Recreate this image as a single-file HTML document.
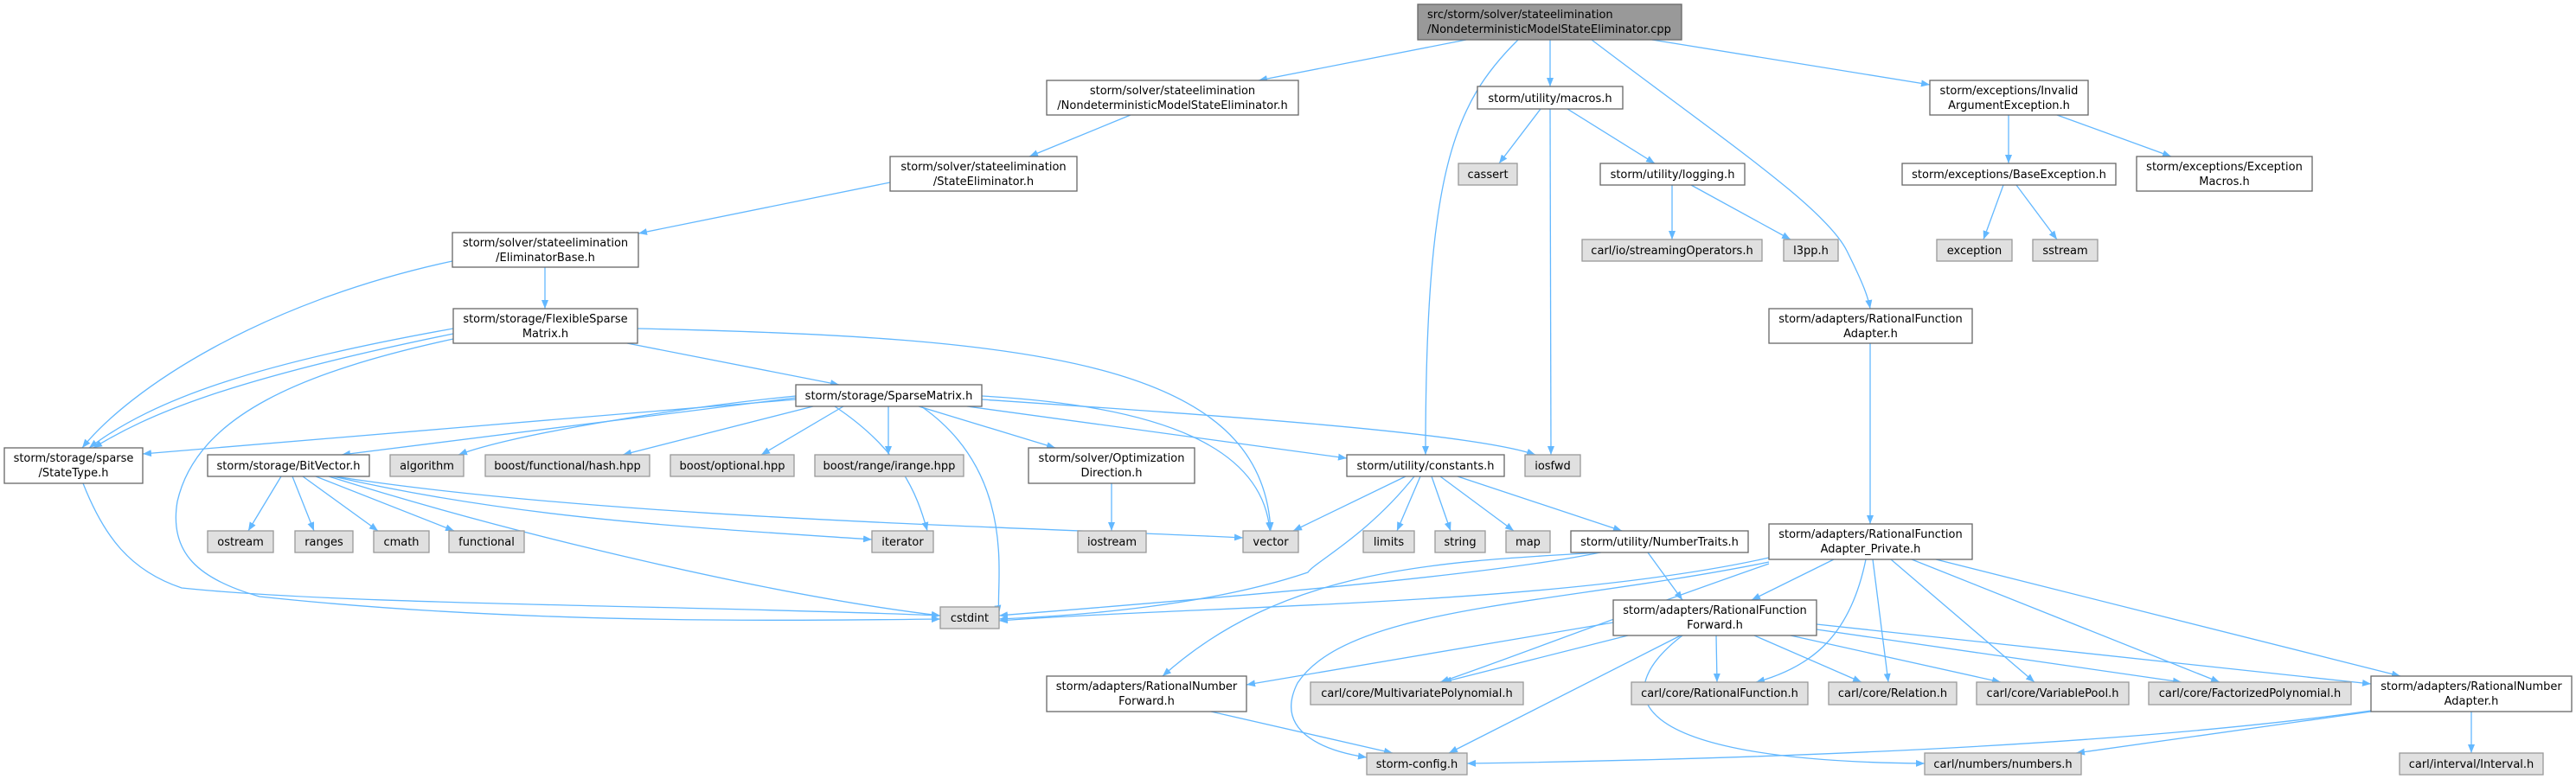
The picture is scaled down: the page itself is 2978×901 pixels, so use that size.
<!DOCTYPE html>
<html><head><meta charset="utf-8">
<style>
html,body{margin:0;padding:0;background:#fff;}
svg{display:block;}
text{font-family:"DejaVu Sans","Liberation Sans",sans-serif;font-size:13px;fill:#000;}
.n{fill:#fff;stroke:#666;stroke-width:1.3;}
.g{fill:#e0e0e0;stroke:#999;stroke-width:1.3;}
.t{fill:#999;stroke:#666;stroke-width:1.3;}
.e{fill:none;stroke:#63b8ff;stroke-width:1.3;marker-end:url(#a);}
</style></head>
<body>
<svg width="2978" height="901" viewBox="0 0 2978 901" xmlns="http://www.w3.org/2000/svg">
<defs>
<marker id="a" viewBox="0 0 10 8" refX="10" refY="4" markerWidth="10" markerHeight="8" markerUnits="userSpaceOnUse" orient="auto">
<path d="M0,0 L10,4 L0,8 z" fill="#63b8ff"/>
</marker>
</defs>

<g>
<path class="e" d="M1695,46 L1455,93"/>
<path class="e" d="M1792,46 L1792,100"/>
<path class="e" d="M1755,46 C1680,120 1648,200 1648,526"/>
<path class="e" d="M1840,46 C1990,160 2110,240 2135,290 C2155,330 2160,345 2162,357"/>
<path class="e" d="M1910,46 L2231,98"/>
<path class="e" d="M1307,133 L1190,181"/>
<path class="e" d="M1029,211 L738,270"/>
<path class="e" d="M1781,126 L1733,189"/>
<path class="e" d="M1812,126 L1913,189"/>
<path class="e" d="M1792,126 L1793,526"/>
<path class="e" d="M1933,214 L1933,277"/>
<path class="e" d="M1955,214 L2070,277"/>
<path class="e" d="M2322,133 L2322,189"/>
<path class="e" d="M2378,133 L2510,181"/>
<path class="e" d="M2316,214 L2293,277"/>
<path class="e" d="M2331,214 L2378,277"/>
<path class="e" d="M2162,397 L2162,606"/>
<path class="e" d="M630,309 L630,357"/>
<path class="e" d="M523,302 C300,350 150,450 95,518"/>
<path class="e" d="M524,380 C300,420 180,460 103,518"/>
<path class="e" d="M524,386 C260,440 170,480 108,518"/>
<path class="e" d="M725,397 L970,445"/>
<path class="e" d="M737,380 C1200,390 1460,420 1469,614"/>
<path class="e" d="M524,392 C350,430 228,480 205,580 C195,640 230,670 300,690 C600,722 900,718 1087,716"/>
<path class="e" d="M96,559 C120,620 150,660 210,680 C400,700 800,700 1087,712"/>
<path class="e" d="M920,462 L165,525"/>
<path class="e" d="M920,460 L395,526"/>
<path class="e" d="M920,458 C800,470 600,500 530,526"/>
<path class="e" d="M940,470 L720,526"/>
<path class="e" d="M975,470 L880,526"/>
<path class="e" d="M1027,470 L1027,526"/>
<path class="e" d="M965,470 C1040,520 1060,570 1072,614"/>
<path class="e" d="M1062,470 L1220,518"/>
<path class="e" d="M1118,470 L1557,530"/>
<path class="e" d="M1135,462 C1400,480 1700,500 1775,526"/>
<path class="e" d="M1135,458 C1350,470 1460,520 1468,614"/>
<path class="e" d="M1065,470 C1180,550 1150,680 1155,710"/>
<path class="e" d="M325,551 L287,614"/>
<path class="e" d="M338,551 L363,614"/>
<path class="e" d="M350,551 L437,614"/>
<path class="e" d="M365,551 L525,614"/>
<path class="e" d="M385,551 C600,600 800,610 1008,624"/>
<path class="e" d="M387,551 C700,600 1200,610 1437,622"/>
<path class="e" d="M380,551 C600,620 900,690 1087,712"/>
<path class="e" d="M1285,559 L1285,614"/>
<path class="e" d="M1625,551 L1495,614"/>
<path class="e" d="M1642,551 L1615,614"/>
<path class="e" d="M1655,551 L1677,614"/>
<path class="e" d="M1665,551 L1750,614"/>
<path class="e" d="M1685,551 L1875,614"/>
<path class="e" d="M1635,551 C1580,620 1520,650 1512,662 C1400,700 1250,712 1155,716"/>
<path class="e" d="M1850,639 C1700,670 1300,700 1155,712"/>
<path class="e" d="M1905,639 L1945,694"/>
<path class="e" d="M1851,639 C1650,650 1480,660 1344,782"/>
<path class="e" d="M2045,645 C1800,700 1400,700 1155,718"/>
<path class="e" d="M2045,650 C1800,700 1560,700 1500,790 C1470,850 1540,870 1580,876"/>
<path class="e" d="M2045,652 C1850,720 1750,760 1665,789"/>
<path class="e" d="M2120,647 L2025,694"/>
<path class="e" d="M2157,647 C2140,730 2100,770 2030,789"/>
<path class="e" d="M2165,647 L2183,789"/>
<path class="e" d="M2186,647 L2352,789"/>
<path class="e" d="M2210,647 L2566,789"/>
<path class="e" d="M2238,647 L2775,782"/>
<path class="e" d="M1865,720 L1441,792"/>
<path class="e" d="M1882,735 L1668,789"/>
<path class="e" d="M1984,735 L1985,789"/>
<path class="e" d="M2028,735 L2152,789"/>
<path class="e" d="M2070,735 L2313,789"/>
<path class="e" d="M2100,728 L2522,789"/>
<path class="e" d="M2100,722 L2741,791"/>
<path class="e" d="M1943,735 L1675,871"/>
<path class="e" d="M1945,735 C1860,800 1870,880 2225,883"/>
<path class="e" d="M1400,823 L1610,871"/>
<path class="e" d="M2741,822 C2400,870 1900,880 1696,883"/>
<path class="e" d="M2741,823 L2400,871"/>
<path class="e" d="M2857,823 L2857,871"/>
</g>

<g>
<rect class="t" x="1639" y="5" width="305" height="41"/>
<text x="1650" y="21">src/storm/solver/stateelimination</text>
<text x="1650" y="38">/NondeterministicModelStateEliminator.cpp</text>

<rect class="n" x="1210" y="93" width="291" height="40"/>
<text x="1355.5" y="109" text-anchor="middle">storm/solver/stateelimination</text>
<text x="1355.5" y="126" text-anchor="middle">/NondeterministicModelStateEliminator.h</text>

<rect class="n" x="1029" y="181" width="216" height="40"/>
<text x="1137" y="197" text-anchor="middle">storm/solver/stateelimination</text>
<text x="1137" y="214" text-anchor="middle">/StateEliminator.h</text>

<rect class="n" x="1708" y="100" width="168" height="26"/>
<text x="1792" y="118" text-anchor="middle">storm/utility/macros.h</text>

<rect class="g" x="1686" y="189" width="68" height="25"/>
<text x="1720" y="206" text-anchor="middle">cassert</text>

<rect class="n" x="1850" y="189" width="167" height="25"/>
<text x="1933.5" y="206" text-anchor="middle">storm/utility/logging.h</text>

<rect class="g" x="1829" y="277" width="208" height="25"/>
<text x="1933" y="294" text-anchor="middle">carl/io/streamingOperators.h</text>

<rect class="g" x="2062" y="277" width="63" height="25"/>
<text x="2093.5" y="294" text-anchor="middle">l3pp.h</text>

<rect class="n" x="2231" y="93" width="183" height="40"/>
<text x="2322.5" y="109" text-anchor="middle">storm/exceptions/Invalid</text>
<text x="2322.5" y="126" text-anchor="middle">ArgumentException.h</text>

<rect class="n" x="2199" y="189" width="247" height="25"/>
<text x="2322.5" y="206" text-anchor="middle">storm/exceptions/BaseException.h</text>

<rect class="n" x="2470" y="181" width="203" height="40"/>
<text x="2571.5" y="197" text-anchor="middle">storm/exceptions/Exception</text>
<text x="2571.5" y="214" text-anchor="middle">Macros.h</text>

<rect class="g" x="2239" y="277" width="87" height="25"/>
<text x="2282.5" y="294" text-anchor="middle">exception</text>

<rect class="g" x="2350" y="277" width="75" height="25"/>
<text x="2387.5" y="294" text-anchor="middle">sstream</text>

<rect class="n" x="2045" y="357" width="235" height="40"/>
<text x="2162.5" y="373" text-anchor="middle">storm/adapters/RationalFunction</text>
<text x="2162.5" y="390" text-anchor="middle">Adapter.h</text>

<rect class="n" x="523" y="269" width="215" height="40"/>
<text x="630.5" y="285" text-anchor="middle">storm/solver/stateelimination</text>
<text x="630.5" y="302" text-anchor="middle">/EliminatorBase.h</text>

<rect class="n" x="524" y="357" width="213" height="40"/>
<text x="630.5" y="373" text-anchor="middle">storm/storage/FlexibleSparse</text>
<text x="630.5" y="390" text-anchor="middle">Matrix.h</text>

<rect class="n" x="920" y="445" width="215" height="25"/>
<text x="1027.5" y="462" text-anchor="middle">storm/storage/SparseMatrix.h</text>

<rect class="n" x="5" y="518" width="160" height="41"/>
<text x="85" y="534" text-anchor="middle">storm/storage/sparse</text>
<text x="85" y="551" text-anchor="middle">/StateType.h</text>

<rect class="n" x="240" y="526" width="187" height="25"/>
<text x="333.5" y="543" text-anchor="middle">storm/storage/BitVector.h</text>

<rect class="g" x="451" y="526" width="85" height="25"/>
<text x="493.5" y="543" text-anchor="middle">algorithm</text>

<rect class="g" x="561" y="526" width="190" height="25"/>
<text x="656" y="543" text-anchor="middle">boost/functional/hash.hpp</text>

<rect class="g" x="775" y="526" width="143" height="25"/>
<text x="846.5" y="543" text-anchor="middle">boost/optional.hpp</text>

<rect class="g" x="942" y="526" width="172" height="25"/>
<text x="1028" y="543" text-anchor="middle">boost/range/irange.hpp</text>

<rect class="g" x="240" y="614" width="76" height="25"/>
<text x="278" y="631" text-anchor="middle">ostream</text>
<rect class="g" x="341" y="614" width="67" height="25"/>
<text x="374.5" y="631" text-anchor="middle">ranges</text>
<rect class="g" x="432" y="614" width="64" height="25"/>
<text x="464" y="631" text-anchor="middle">cmath</text>
<rect class="g" x="519" y="614" width="87" height="25"/>
<text x="562.5" y="631" text-anchor="middle">functional</text>

<rect class="n" x="1189" y="518" width="192" height="41"/>
<text x="1285" y="534" text-anchor="middle">storm/solver/Optimization</text>
<text x="1285" y="551" text-anchor="middle">Direction.h</text>

<rect class="n" x="1557" y="526" width="182" height="25"/>
<text x="1648" y="543" text-anchor="middle">storm/utility/constants.h</text>

<rect class="g" x="1763" y="526" width="64" height="25"/>
<text x="1795" y="543" text-anchor="middle">iosfwd</text>

<rect class="g" x="1008" y="614" width="71" height="25"/>
<text x="1043.5" y="631" text-anchor="middle">iterator</text>
<rect class="g" x="1246" y="614" width="79" height="25"/>
<text x="1285.5" y="631" text-anchor="middle">iostream</text>
<rect class="g" x="1437" y="614" width="64" height="25"/>
<text x="1469" y="631" text-anchor="middle">vector</text>
<rect class="g" x="1576" y="614" width="59" height="25"/>
<text x="1605.5" y="631" text-anchor="middle">limits</text>
<rect class="g" x="1659" y="614" width="58" height="25"/>
<text x="1688" y="631" text-anchor="middle">string</text>
<rect class="g" x="1741" y="614" width="51" height="25"/>
<text x="1766.5" y="631" text-anchor="middle">map</text>

<rect class="n" x="1816" y="614" width="205" height="25"/>
<text x="1918.5" y="631" text-anchor="middle">storm/utility/NumberTraits.h</text>

<rect class="n" x="2045" y="606" width="235" height="41"/>
<text x="2162.5" y="622" text-anchor="middle">storm/adapters/RationalFunction</text>
<text x="2162.5" y="639" text-anchor="middle">Adapter_Private.h</text>

<rect class="g" x="1087" y="702" width="68" height="25"/>
<text x="1121" y="719" text-anchor="middle">cstdint</text>

<rect class="n" x="1865" y="694" width="235" height="41"/>
<text x="1982.5" y="710" text-anchor="middle">storm/adapters/RationalFunction</text>
<text x="1982.5" y="727" text-anchor="middle">Forward.h</text>

<rect class="n" x="1210" y="782" width="231" height="41"/>
<text x="1325.5" y="798" text-anchor="middle">storm/adapters/RationalNumber</text>
<text x="1325.5" y="815" text-anchor="middle">Forward.h</text>

<rect class="g" x="1515" y="789" width="246" height="26"/>
<text x="1638" y="806" text-anchor="middle">carl/core/MultivariatePolynomial.h</text>
<rect class="g" x="1886" y="789" width="204" height="26"/>
<text x="1988" y="806" text-anchor="middle">carl/core/RationalFunction.h</text>
<rect class="g" x="2114" y="789" width="148" height="26"/>
<text x="2188" y="806" text-anchor="middle">carl/core/Relation.h</text>
<rect class="g" x="2285" y="789" width="176" height="26"/>
<text x="2373" y="806" text-anchor="middle">carl/core/VariablePool.h</text>
<rect class="g" x="2484" y="789" width="234" height="26"/>
<text x="2601" y="806" text-anchor="middle">carl/core/FactorizedPolynomial.h</text>

<rect class="n" x="2741" y="782" width="232" height="41"/>
<text x="2857" y="798" text-anchor="middle">storm/adapters/RationalNumber</text>
<text x="2857" y="815" text-anchor="middle">Adapter.h</text>

<rect class="g" x="1580" y="871" width="116" height="25"/>
<text x="1638" y="888" text-anchor="middle">storm-config.h</text>
<rect class="g" x="2225" y="871" width="181" height="25"/>
<text x="2315.5" y="888" text-anchor="middle">carl/numbers/numbers.h</text>
<rect class="g" x="2774" y="871" width="166" height="25"/>
<text x="2857" y="888" text-anchor="middle">carl/interval/Interval.h</text>
</g>
</svg>
</body></html>
